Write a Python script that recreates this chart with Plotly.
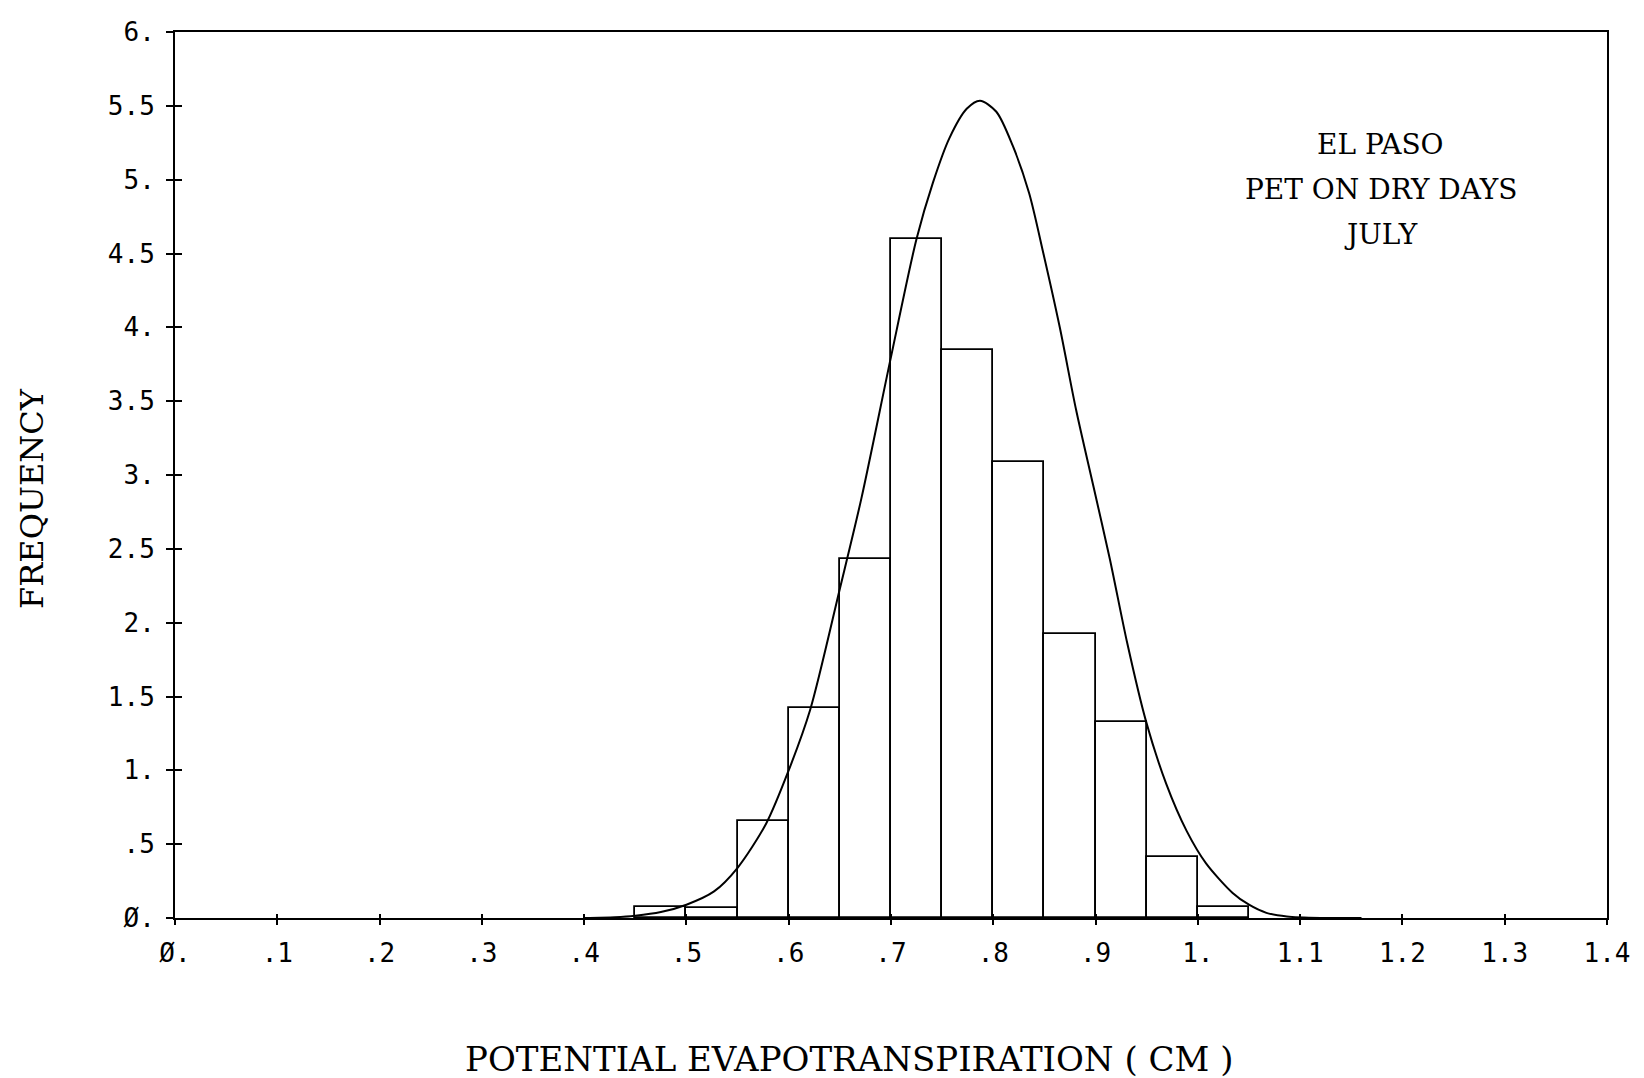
import plotly.graph_objects as go

# Histogram bins (left edges, cm) and relative frequencies
bin_left = [0.45, 0.50, 0.55, 0.60, 0.65, 0.70, 0.75, 0.80, 0.85, 0.90, 0.95, 1.00]
bin_width = 0.05
frequency = [0.075, 0.07, 0.66, 1.42, 2.43, 4.60, 3.845, 3.09, 1.92, 1.33, 0.41, 0.075]

# Fitted density curve
curve_x = [0.40, 0.43, 0.45, 0.475, 0.50, 0.527, 0.55, 0.578, 0.60, 0.621, 0.65, 0.671,
           0.70, 0.725, 0.741, 0.757, 0.774, 0.787, 0.803, 0.819, 0.835, 0.849, 0.865,
           0.881, 0.898, 0.914, 0.931, 0.949, 0.969, 0.989, 1.008, 1.034, 1.050, 1.067,
           1.087, 1.12, 1.16]
curve_y = [0.0, 0.005, 0.015, 0.04, 0.09, 0.18, 0.34, 0.64, 1.0, 1.41, 2.23, 2.84,
           3.80, 4.60, 4.98, 5.28, 5.48, 5.535, 5.46, 5.23, 4.91, 4.50, 4.00,
           3.44, 2.92, 2.43, 1.86, 1.34, 0.91, 0.59, 0.37, 0.17, 0.09, 0.035,
           0.01, 0.0, 0.0]

x_tickvals = [0.0, 0.1, 0.2, 0.3, 0.4, 0.5, 0.6, 0.7, 0.8, 0.9, 1.0, 1.1, 1.2, 1.3, 1.4]
x_ticktext = ["Ø.", ".1", ".2", ".3", ".4", ".5", ".6", ".7", ".8", ".9",
              "1.", "1.1", "1.2", "1.3", "1.4"]
y_tickvals = [0, 0.5, 1, 1.5, 2, 2.5, 3, 3.5, 4, 4.5, 5, 5.5, 6]
y_ticktext = ["Ø.", ".5", "1.", "1.5", "2.", "2.5", "3.", "3.5", "4.", "4.5", "5.", "5.5", "6."]

title_lines = ["EL PASO", "PET ON DRY DAYS", "JULY"]
x_title = "POTENTIAL EVAPOTRANSPIRATION ( CM )"
y_title = "FREQUENCY"

tick_font = dict(family="DejaVu Sans Mono", size=26, color="black")
title_font = dict(family="DejaVu Serif", size=32, color="black")

fig = go.Figure()
fig.add_trace(go.Bar(
    x=bin_left, y=frequency, width=bin_width, offset=0,
    marker=dict(color="white", line=dict(color="black", width=1.8)),
    xaxis="x", yaxis="y", showlegend=False, hoverinfo="skip",
))
fig.add_trace(go.Scatter(
    x=curve_x, y=curve_y, mode="lines",
    line=dict(color="black", width=2, shape="spline", smoothing=0.8),
    xaxis="x2", yaxis="y2", showlegend=False, hoverinfo="skip",
))

axis_common = dict(showgrid=False, zeroline=False)

fig.update_layout(
    width=1644, height=1078,
    margin=dict(l=175, r=37, t=32, b=160, autoexpand=False),
    paper_bgcolor="white", plot_bgcolor="white",
    bargap=0,
    xaxis=dict(
        range=[0, 1.4], tickvals=x_tickvals, ticktext=x_ticktext,
        ticks="outside", ticklen=5, tickwidth=1.5, tickcolor="black",
        tickfont=tick_font, ticklabelstandoff=6,
        showline=True, linecolor="black", linewidth=2, mirror=True,
        **axis_common,
    ),
    yaxis=dict(
        range=[0, 6], tickvals=y_tickvals, ticktext=y_ticktext,
        ticks="outside", ticklen=7, tickwidth=2, tickcolor="black",
        tickfont=tick_font, ticklabelstandoff=6,
        showline=True, linecolor="black", linewidth=2, mirror=True,
        **axis_common,
    ),
    xaxis2=dict(
        overlaying="x", matches="x", anchor="y2", side="bottom",
        range=[0, 1.4], tickvals=x_tickvals, ticks="inside", ticklen=4,
        tickwidth=1.5, tickcolor="black", showticklabels=False, showline=False,
        **axis_common,
    ),
    yaxis2=dict(
        overlaying="y", matches="y", anchor="x2", side="left",
        range=[0, 6], tickvals=y_tickvals, ticks="inside", ticklen=7,
        tickwidth=2, tickcolor="black", showticklabels=False, showline=False,
        **axis_common,
    ),
)

annotations = [
    dict(text=y_title, xref="paper", yref="paper", x=-0.0999, y=0.474,
         textangle=-90, showarrow=False, font=title_font,
         xanchor="center", yanchor="middle"),
    dict(text=x_title, xref="paper", yref="paper", x=0.471, y=-0.159,
         showarrow=False, font=dict(family="DejaVu Serif", size=34, color="black"),
         xanchor="center", yanchor="middle"),
]
line_y = [0.873, 0.822, 0.771]
for txt, yy in zip(title_lines, line_y):
    annotations.append(dict(text=txt, xref="paper", yref="paper", x=0.842, y=yy,
                            showarrow=False,
                            font=dict(family="DejaVu Serif", size=28, color="black"),
                            xanchor="center", yanchor="middle"))
fig.update_layout(annotations=annotations)

fig.write_html("out.html")
